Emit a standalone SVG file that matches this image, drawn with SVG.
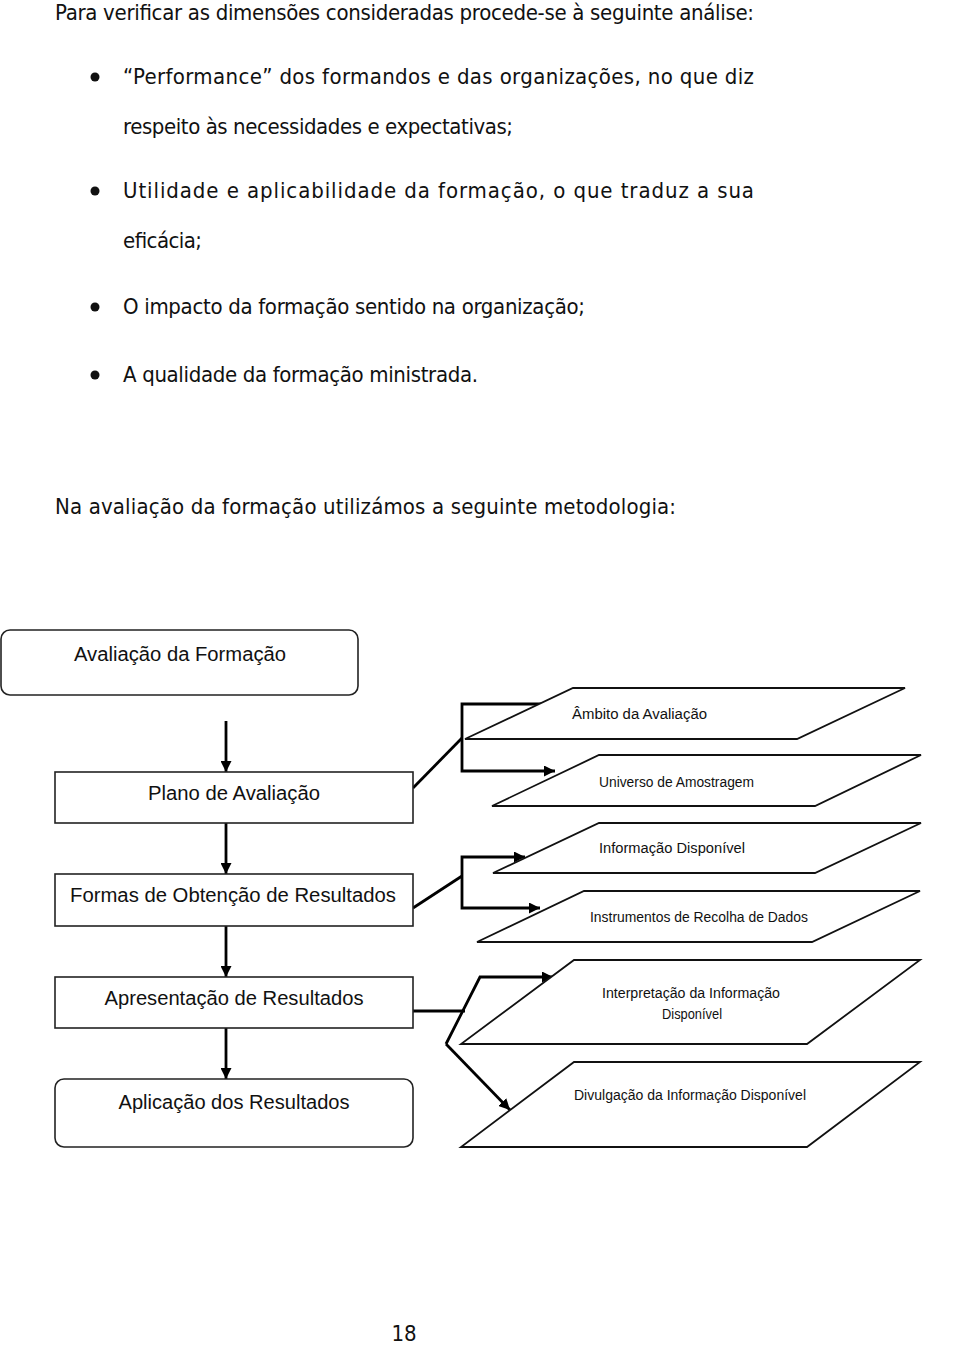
<svg xmlns="http://www.w3.org/2000/svg" width="960" height="1345" viewBox="0 0 960 1345">
<style>
.body{font-family:"Liberation Sans Narrow","DejaVu Sans Condensed","Liberation Sans",sans-serif;font-size:22px;fill:#111}
.lbl{font-family:"Liberation Sans","DejaVu Sans",sans-serif;font-size:20px;fill:#111;text-anchor:middle}
.sm{font-family:"Liberation Sans","DejaVu Sans",sans-serif;font-size:14px;fill:#111}
.box{fill:#fff;stroke:#222;stroke-width:1.6}
.para{fill:#fff;stroke:#111;stroke-width:1.8}
.con{fill:none;stroke:#000;stroke-width:2.8;stroke-linejoin:miter}
.vcon{fill:none;stroke:#000;stroke-width:2.8}
</style>
<defs>
<marker id="ah" viewBox="0 0 10 10" refX="10" refY="5" markerWidth="11" markerHeight="11" markerUnits="userSpaceOnUse" orient="auto">
<path d="M0,0 L10,5 L0,10 z" fill="#000"/>
</marker>
</defs>
<rect width="960" height="1345" fill="#fff"/>
<g id="intro">
<text class="body" x="55" y="20" textLength="699" lengthAdjust="spacing">Para verificar as dimensões consideradas procede-se à seguinte análise:</text>
<circle cx="95" cy="77" r="4.5" fill="#111"/>
<text class="body" x="123" y="84" textLength="631" lengthAdjust="spacing">“Performance” dos formandos e das organizações, no que diz</text>
<text class="body" x="123" y="134" textLength="390" lengthAdjust="spacing">respeito às necessidades e expectativas;</text>
<circle cx="95" cy="191" r="4.5" fill="#111"/>
<text class="body" x="123" y="198" textLength="631" lengthAdjust="spacing">Utilidade e aplicabilidade da formação, o que traduz a sua</text>
<text class="body" x="123" y="248" textLength="79" lengthAdjust="spacing">eficácia;</text>
<circle cx="95" cy="307" r="4.5" fill="#111"/>
<text class="body" x="123" y="314" textLength="462" lengthAdjust="spacing">O impacto da formação sentido na organização;</text>
<circle cx="95" cy="375" r="4.5" fill="#111"/>
<text class="body" x="123" y="382" textLength="355" lengthAdjust="spacing">A qualidade da formação ministrada.</text>
<text class="body" x="55" y="514" textLength="621" lengthAdjust="spacing">Na avaliação da formação utilizámos a seguinte metodologia:</text>
</g>
<g id="connectors">
<path class="vcon" d="M226,721 V772" marker-end="url(#ah)"/>
<path class="vcon" d="M226,823 V874" marker-end="url(#ah)"/>
<path class="vcon" d="M226,926 V977" marker-end="url(#ah)"/>
<path class="vcon" d="M226,1028 V1079" marker-end="url(#ah)"/>
<path class="con" d="M413,788 L462,738"/>
<path class="con" d="M462,738 V704 H560"/>
<path class="con" d="M462,738 V771 H555" marker-end="url(#ah)"/>
<path class="con" d="M413,908 L462,876"/>
<path class="con" d="M462,876 V857 H525" marker-end="url(#ah)"/>
<path class="con" d="M462,876 V908 H540" marker-end="url(#ah)"/>
<path class="con" d="M413,1011 H465"/>
<path class="con" d="M446,1044 L480,977 H553" marker-end="url(#ah)"/>
<path class="con" d="M446,1044 L510,1110" marker-end="url(#ah)"/>
</g>
<g id="n-avaliacao-formacao">
<rect class="box" x="1" y="630" width="357" height="65" rx="9"/>
<text class="lbl" x="180" y="661" textLength="212" lengthAdjust="spacingAndGlyphs">Avaliação da Formação</text>
</g>
<g id="n-plano">
<rect class="box" x="55" y="772" width="358" height="51"/>
<text class="lbl" x="234" y="800" textLength="172" lengthAdjust="spacingAndGlyphs">Plano de Avaliação</text>
</g>
<g id="n-formas">
<rect class="box" x="55" y="874" width="358" height="52"/>
<text class="lbl" x="233" y="902" textLength="326" lengthAdjust="spacingAndGlyphs">Formas de Obtenção de Resultados</text>
</g>
<g id="n-apresentacao">
<rect class="box" x="55" y="977" width="358" height="51"/>
<text class="lbl" x="234" y="1005" textLength="259" lengthAdjust="spacingAndGlyphs">Apresentação de Resultados</text>
</g>
<g id="n-aplicacao">
<rect class="box" x="55" y="1079" width="358" height="68" rx="9"/>
<text class="lbl" x="234" y="1109" textLength="231" lengthAdjust="spacingAndGlyphs">Aplicação dos Resultados</text>
</g>
<g id="n-ambito">
<polygon class="para" points="573,688 905,688 797,739 465,739"/>
<text class="sm" x="572" y="719" textLength="135" lengthAdjust="spacingAndGlyphs">Âmbito da Avaliação</text>
</g>
<g id="n-universo">
<polygon class="para" points="599,755 921,755 815,806 492,806"/>
<text class="sm" x="599" y="787" textLength="155" lengthAdjust="spacingAndGlyphs">Universo de Amostragem</text>
</g>
<g id="n-informacao">
<polygon class="para" points="599,823 921,823 815,873 493,873"/>
<text class="sm" x="599" y="853" textLength="146" lengthAdjust="spacingAndGlyphs">Informação Disponível</text>
</g>
<g id="n-instrumentos">
<polygon class="para" points="584,891 920,891 812,942 477,942"/>
<text class="sm" x="590" y="922" textLength="218" lengthAdjust="spacingAndGlyphs">Instrumentos de Recolha de Dados</text>
</g>
<g id="n-interpretacao">
<polygon class="para" points="574,960 920,960 807,1044 461,1044"/>
<text class="sm" x="602" y="998" textLength="178" lengthAdjust="spacingAndGlyphs">Interpretação da Informação</text>
<text class="sm" x="662" y="1019" textLength="60" lengthAdjust="spacingAndGlyphs">Disponível</text>
</g>
<g id="n-divulgacao">
<polygon class="para" points="574,1062 920,1062 807,1147 461,1147"/>
<text class="sm" x="574" y="1100" textLength="232" lengthAdjust="spacingAndGlyphs">Divulgação da Informação Disponível</text>
</g>
<text class="body" x="404" y="1341" text-anchor="middle" font-size="19">18</text>
</svg>
